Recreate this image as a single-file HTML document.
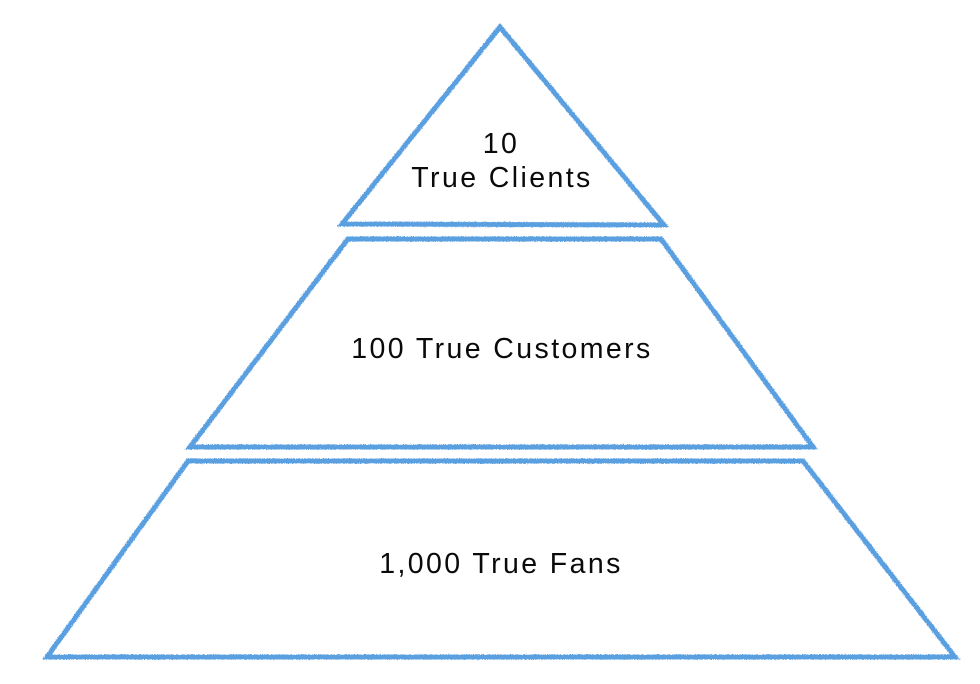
<!DOCTYPE html>
<html>
<head>
<meta charset="utf-8">
<style>
  html, body { margin: 0; padding: 0; background: #ffffff; }
  body { width: 980px; height: 684px; overflow: hidden; }
  svg { display: block; }
  text {
    font-family: "Liberation Sans", sans-serif;
    font-size: 28.5px;
    fill: #0a0a0a;
    letter-spacing: 2.4px;
  }
</style>
</head>
<body>
<svg width="980" height="684" viewBox="0 0 980 684" xmlns="http://www.w3.org/2000/svg">
  <defs>
    <filter id="rough" x="-5%" y="-5%" width="110%" height="110%">
      <feTurbulence type="fractalNoise" baseFrequency="1.1" numOctaves="2" seed="3" result="noise"/>
      <feDisplacementMap in="SourceGraphic" in2="noise" scale="2.6" xChannelSelector="R" yChannelSelector="G"/>
    </filter>
  </defs>
  <g fill="none" stroke="#5a9fe0" stroke-width="5" stroke-linejoin="miter" filter="url(#rough)">
    <polygon points="500,27 342,224 664,225"/>
    <polygon points="348,239 661,239 813,447 190,447"/>
    <polygon points="188,461 803,461 955,657 47,657"/>
  </g>
  <text x="501" y="153" text-anchor="middle">10</text>
  <text x="502" y="187" text-anchor="middle">True Clients</text>
  <text x="502" y="358" text-anchor="middle">100 True Customers</text>
  <text x="501" y="573" text-anchor="middle">1,000 True Fans</text>
</svg>
</body>
</html>
